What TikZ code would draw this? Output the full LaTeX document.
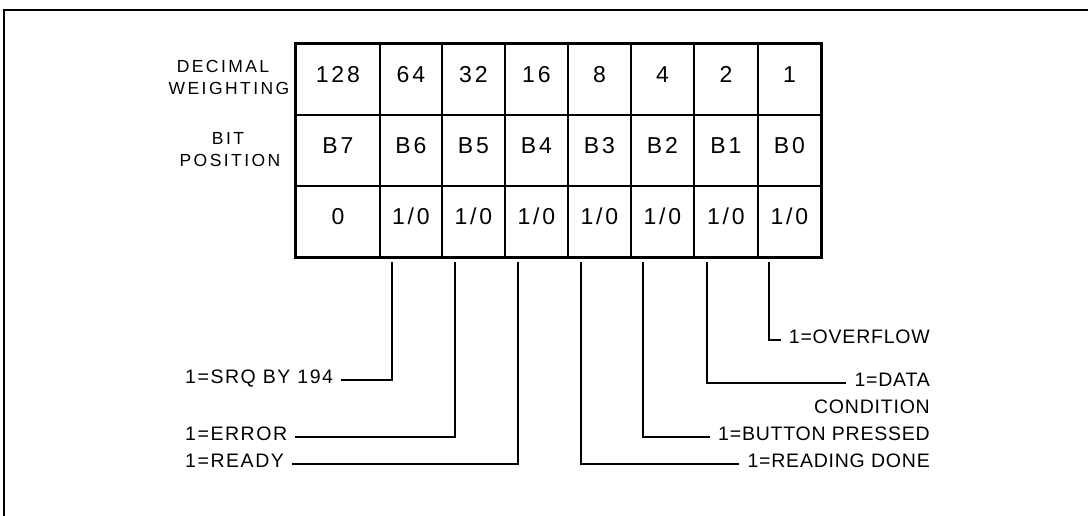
\documentclass[tikz,border=0pt]{standalone}
\usepackage{fontspec}
\setmainfont{Liberation Sans}
\newfontfamily\cellfont{Liberation Sans}[LetterSpace=12]
\newfontfamily\labfont{Liberation Sans}[LetterSpace=4]
\newfontfamily\leftlabfont{Liberation Sans}[LetterSpace=8]
\newfontfamily\headfont{Liberation Sans}[LetterSpace=14]
\begin{document}
\begin{tikzpicture}[x=1pt,y=-1pt,
  cell/.style={draw, line width=1.8pt, inner sep=0pt, anchor=north west,
    minimum height=71pt, font=\cellfont\fontsize{23}{23}\selectfont,
    text height=0.72em, text depth=0pt},
  lab/.style={inner ysep=0pt, inner xsep=8pt, font=\labfont\fontsize{19.5}{19.5}\selectfont,
    text height=0.72em, text depth=0pt},
  leftlab/.style={lab, font=\leftlabfont\fontsize{19.5}{19.5}\selectfont},
  head/.style={inner sep=0pt, font=\headfont\fontsize{17.5}{17.5}\selectfont,
    text height=0.72em, text depth=0pt},
  leader/.style={line width=1.8pt}]
\useasboundingbox (0,0) rectangle (1088,516);
% frame
\draw[line width=2.4pt] (4,516) -- (4,10) -- (1088,10);
% header labels
\node[head] (hdecA) at (223,69) {DECIMAL};
\node[head] (hdecB) at (229,91) {WEIGHTING};
\node[head] (hbitA) at (228,141) {BIT};
\node[head] (hbitB) at (230,163) {POSITION};
% row 1: decimal weighting
\node[cell, minimum width=84pt] (w7) at (295,43) {128};
\node[cell, minimum width=62pt] (w6) at (379,43) {64};
\node[cell, minimum width=63pt] (w5) at (441,43) {32};
\node[cell, minimum width=63pt] (w4) at (504,43) {16};
\node[cell, minimum width=63pt] (w3) at (567,43) {8};
\node[cell, minimum width=63pt] (w2) at (630,43) {4};
\node[cell, minimum width=64pt] (w1) at (693,43) {2};
\node[cell, minimum width=63pt] (w0) at (757,43) {1};
% row 2: bit position
\node[cell, minimum width=84pt] (p7) at (295,114) {B7};
\node[cell, minimum width=62pt] (p6) at (379,114) {B6};
\node[cell, minimum width=63pt] (p5) at (441,114) {B5};
\node[cell, minimum width=63pt] (p4) at (504,114) {B4};
\node[cell, minimum width=63pt] (p3) at (567,114) {B3};
\node[cell, minimum width=63pt] (p2) at (630,114) {B2};
\node[cell, minimum width=64pt] (p1) at (693,114) {B1};
\node[cell, minimum width=63pt] (p0) at (757,114) {B0};
% row 3: values
\node[cell, minimum width=84pt] (v7) at (295,185) {0};
\node[cell, minimum width=62pt] (v6) at (379,185) {1/0};
\node[cell, minimum width=63pt] (v5) at (441,185) {1/0};
\node[cell, minimum width=63pt] (v4) at (504,185) {1/0};
\node[cell, minimum width=63pt] (v3) at (567,185) {1/0};
\node[cell, minimum width=63pt] (v2) at (630,185) {1/0};
\node[cell, minimum width=64pt] (v1) at (693,185) {1/0};
\node[cell, minimum width=63pt] (v0) at (757,185) {1/0};
\draw[line width=2.4pt] (w7.north west) rectangle (v0.south east);
% leader start points
\coordinate (t6) at (392,262);
\coordinate (t5) at (455,262);
\coordinate (t4) at (518,262);
\coordinate (t3) at (581,262);
\coordinate (t2) at (643,262);
\coordinate (t1) at (707,262);
\coordinate (t0) at (769,262);
% labels left
\node[leftlab, anchor=west] (l6) at (177,380) {1=SRQ BY 194};
\node[leftlab, anchor=west] (l5) at (177,437) {1=ERROR};
\node[leftlab, anchor=west] (l4) at (177,464) {1=READY};
% labels right
\node[lab, anchor=east] (l0) at (938,340) {1=OVERFLOW};
\node[lab, anchor=east] (l1) at (938,383) {1=DATA};
\node[lab, anchor=east] (l1b) at (938,410) {CONDITION};
\node[lab, anchor=east] (l2) at (938,437) {1=BUTTON PRESSED};
\node[lab, anchor=east] (l3) at (938,464) {1=READING DONE};
% leaders
\draw[leader] (t6) |- (l6);
\draw[leader] (t5) |- (l5);
\draw[leader] (t4) |- (l4);
\draw[leader] (t3) |- (l3);
\draw[leader] (t2) |- (l2);
\draw[leader] (t1) |- (l1);
\draw[leader] (t0) |- (l0);
\end{tikzpicture}
\end{document}
